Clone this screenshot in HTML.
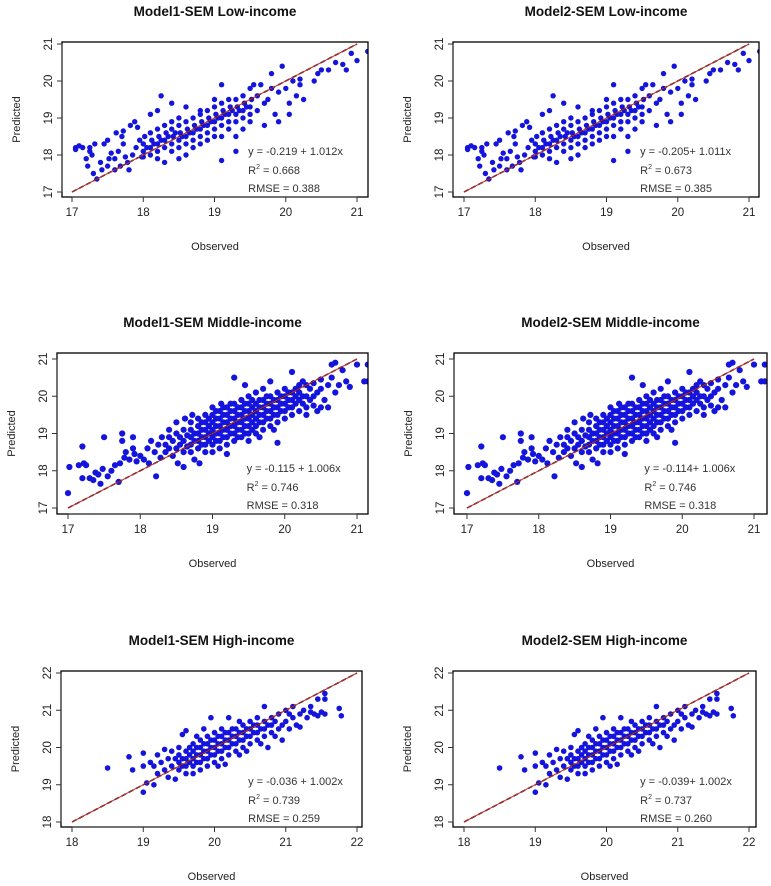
<!DOCTYPE html>
<html><head><meta charset="utf-8">
<style>
html,body{margin:0;padding:0;background:#fff;}
svg{display:block;font-family:"Liberation Sans",Arial,sans-serif;}
</style></head>
<body>
<svg id="chart" width="771" height="886" viewBox="0 0 771 886" xmlns="http://www.w3.org/2000/svg"></svg>
<script>
// ---------- data (observed, predicted) ----------
const lowPoints = [
[17.05,18.2],[17.05,18.15],[17.1,18.25],[17.15,18.2],[17.2,17.9],[17.22,17.7],[17.25,18.1],[17.25,18.2],[17.28,18.0],[17.3,17.5],[17.32,18.3],[17.35,17.35],[17.4,17.8],[17.42,17.6],[17.45,18.3],[17.5,18.4],[17.52,17.9],[17.55,18.05],[17.6,17.6],[17.62,18.6],[17.65,18.1],[17.7,18.5],[17.72,18.65],[17.72,18.3],[17.75,17.95],[17.78,17.8],[17.8,17.6],[17.82,18.8],[17.85,18.0],[17.88,18.9],[17.9,18.2],[17.92,18.75],[17.95,18.4],[17.98,17.95],[17.6,17.9],[17.5,17.7],[17.68,17.7],
[18.0,18.1],[18.0,18.3],[18.02,18.5],[18.0,17.95],[18.05,18.2],
[18.1,18.0],[18.1,18.2],[18.12,18.4],[18.1,18.6],[18.1,19.1],[18.15,18.3],
[18.2,18.1],[18.2,18.3],[18.22,18.5],[18.2,18.7],[18.2,17.9],[18.2,19.2],[18.25,18.4],
[18.3,18.2],[18.3,18.4],[18.32,18.6],[18.3,18.8],[18.3,17.8],[18.25,19.6],[18.35,18.5],
[18.4,18.1],[18.4,18.3],[18.42,18.5],[18.4,18.7],[18.4,18.9],[18.4,19.4],[18.45,18.6],
[18.5,18.2],[18.5,18.4],[18.52,18.6],[18.5,18.8],[18.5,19.0],[18.5,17.9],[18.55,18.5],
[18.6,18.3],[18.6,18.5],[18.62,18.7],[18.6,18.9],[18.6,19.3],[18.6,18.0],[18.65,18.6],
[18.7,18.4],[18.7,18.6],[18.72,18.8],[18.7,19.0],[18.7,18.2],[18.75,18.7],
[18.8,18.5],[18.8,18.7],[18.82,18.9],[18.8,19.1],[18.8,18.3],[18.8,19.2],[18.85,18.8],
[18.9,18.6],[18.9,18.8],[18.92,19.0],[18.9,19.2],[18.9,18.4],[18.95,18.9],
[19.0,18.7],[19.0,18.9],[19.02,19.1],[19.0,19.3],[19.0,18.5],[19.0,19.5],[19.05,19.0],
[19.1,18.8],[19.1,19.0],[19.12,19.2],[19.1,19.4],[19.1,18.5],[19.1,19.9],[19.1,17.85],[19.15,19.1],
[19.2,18.9],[19.2,19.1],[19.22,19.3],[19.2,18.7],[19.2,19.5],[19.25,19.2],
[19.3,18.9],[19.3,19.1],[19.32,19.3],[19.3,19.5],[19.3,18.5],[19.3,18.1],[19.35,19.2],
[19.4,19.0],[19.4,19.2],[19.42,19.4],[19.4,19.6],[19.4,18.7],[19.45,19.3],
[19.5,19.1],[19.5,19.3],[19.52,19.5],[19.5,19.8],[19.5,18.9],
[19.6,19.2],[19.6,19.6],[19.65,19.9],[19.7,19.4],[19.7,18.8],[19.75,19.5],[19.8,19.8],[19.8,20.2],[19.85,19.1],[19.9,19.7],[19.95,20.4],[20.0,19.8],[20.05,19.1],[20.1,20.0],[20.15,19.6],[20.2,19.9],[20.2,20.05],[20.25,19.5],[20.4,20.0],[20.45,20.2],[20.5,20.3],[20.6,20.3],[20.7,20.5],[20.8,20.45],[20.85,20.3],[20.92,20.75],[21.0,20.55],[21.15,20.8],[19.55,19.9],[19.9,18.9],[20.05,19.4]
];
const middlePoints = [
[17.0,17.4],[17.02,18.1],[17.15,18.15],[17.2,18.65],[17.2,17.8],[17.22,18.2],[17.25,18.15],[17.3,17.8],[17.35,17.75],[17.38,17.95],[17.42,17.9],[17.45,17.65],[17.48,18.05],[17.5,18.9],[17.55,17.85],[17.6,18.0],[17.65,18.15],[17.7,17.7],[17.72,18.2],[17.75,19.0],[17.75,18.8],[17.78,18.35],[17.8,18.5],[17.85,18.3],[17.9,18.9],[17.9,18.6],[17.92,18.45],[17.95,18.25],[18.0,18.4],[18.05,18.3],[18.1,18.6],[18.12,18.2],[18.15,18.8],[18.2,18.5],[18.22,17.85],[18.25,18.7],[18.28,18.35],[18.3,18.9],
[18.35,18.5],[18.35,18.7],[18.4,18.6],[18.4,18.9],[18.4,19.1],[18.45,18.4],[18.45,18.8],[18.5,18.6],[18.5,19.0],[18.5,19.3],[18.52,18.2],[18.55,18.7],[18.55,18.9],[18.6,18.5],[18.6,18.8],[18.6,19.1],[18.6,18.1],[18.62,19.4],[18.65,18.65],[18.65,18.95],
[18.7,18.5],[18.7,18.7],[18.7,18.9],[18.7,19.1],[18.7,19.3],[18.72,19.5],[18.75,18.3],[18.75,18.8],[18.75,19.0],[18.8,18.6],[18.8,18.8],[18.8,19.0],[18.8,19.2],[18.8,19.4],[18.82,18.2],[18.85,18.7],[18.85,18.9],[18.85,19.1],[18.85,19.3],
[18.9,18.5],[18.9,18.7],[18.9,18.9],[18.9,19.1],[18.9,19.3],[18.9,19.5],[18.95,18.8],[18.95,19.0],[18.95,19.2],[18.95,19.4],[19.0,18.5],[19.0,18.7],[19.0,18.9],[19.0,19.1],[19.0,19.3],[19.0,19.5],[19.0,19.7],[19.05,18.8],[19.05,19.0],[19.05,19.2],[19.05,19.4],[19.05,19.6],
[19.1,18.6],[19.1,18.8],[19.1,19.0],[19.1,19.2],[19.1,19.4],[19.1,19.6],[19.12,19.8],[19.15,18.9],[19.15,19.1],[19.15,19.3],[19.15,19.5],[19.15,19.7],[19.2,18.7],[19.2,18.9],[19.2,19.1],[19.2,19.3],[19.2,19.5],[19.2,19.7],[19.2,18.45],[19.25,19.0],[19.25,19.2],[19.25,19.4],[19.25,19.6],[19.25,19.8],[19.3,20.5],
[19.3,18.8],[19.3,19.0],[19.3,19.2],[19.3,19.4],[19.3,19.6],[19.3,19.8],[19.35,18.9],[19.35,19.1],[19.35,19.3],[19.35,19.5],[19.35,19.7],[19.4,18.9],[19.4,19.1],[19.4,19.3],[19.4,19.5],[19.4,19.7],[19.4,19.9],[19.45,19.0],[19.45,19.2],[19.45,19.4],[19.45,19.6],[19.45,19.8],[19.45,20.3],
[19.5,18.8],[19.5,19.0],[19.5,19.2],[19.5,19.4],[19.5,19.6],[19.5,19.8],[19.5,20.0],[19.55,19.1],[19.55,19.3],[19.55,19.5],[19.55,19.7],[19.55,19.9],[19.6,19.0],[19.6,19.2],[19.6,19.4],[19.6,19.6],[19.6,19.8],[19.6,20.1],[19.65,19.3],[19.65,19.5],[19.65,19.7],[19.65,19.9],[19.65,18.9],
[19.7,19.1],[19.7,19.3],[19.7,19.5],[19.7,19.7],[19.7,19.9],[19.7,20.2],[19.75,19.4],[19.75,19.6],[19.75,19.8],[19.75,20.0],[19.8,19.2],[19.8,19.4],[19.8,19.6],[19.8,19.8],[19.8,20.0],[19.8,20.4],[19.85,19.5],[19.85,19.7],[19.85,19.9],[19.85,19.1],[19.9,19.3],[19.9,19.5],[19.9,19.7],[19.9,19.9],[19.9,20.1],[19.9,18.75],
[19.95,19.6],[19.95,19.8],[19.95,20.0],[20.0,19.4],[20.0,19.6],[20.0,19.8],[20.0,20.0],[20.0,20.2],[20.05,19.7],[20.05,19.9],[20.05,20.1],[20.1,19.5],[20.1,19.7],[20.1,19.9],[20.1,20.1],[20.1,20.65],[20.15,19.8],[20.15,20.0],[20.15,20.2],[20.2,19.6],[20.2,19.9],[20.2,20.1],[20.2,20.3],[20.25,19.8],[20.25,20.0],[20.25,20.4],[20.3,19.7],[20.3,20.0],[20.3,20.3],[20.3,19.5],[20.35,19.9],[20.35,20.2],[20.4,20.0],[20.4,20.35],[20.45,19.6],[20.45,20.1],[20.5,20.2],[20.5,20.45],[20.55,19.9],[20.6,20.3],[20.6,19.7],[20.65,20.5],[20.7,20.9],[20.7,20.1],[20.75,20.3],[20.8,20.7],[20.85,20.4],[20.9,20.25],[21.0,20.85],[21.1,20.4],[21.15,20.4],[21.15,20.85],[20.65,20.85],[20.5,19.7],[20.4,19.75]
];
const highPoints = [
[18.5,19.45],[18.8,19.75],[18.85,19.4],[19.0,18.8],[19.0,19.5],[19.0,19.85],[19.05,19.05],[19.1,19.6],[19.15,19.0],[19.15,19.5],[19.2,19.8],[19.2,19.3],[19.25,19.6],[19.3,19.4],[19.3,19.95],[19.35,19.2],[19.35,19.7],[19.4,19.9],[19.4,19.5],[19.45,19.15],[19.45,19.7],
[19.5,19.4],[19.5,19.6],[19.5,19.8],[19.5,20.0],[19.55,19.5],[19.55,19.7],[19.55,20.35],[19.6,19.3],[19.6,19.5],[19.6,19.7],[19.6,19.9],[19.6,20.45],[19.65,19.6],[19.65,19.8],[19.65,20.0],[19.7,19.3],[19.7,19.5],[19.7,19.7],[19.7,19.9],[19.7,20.1],[19.75,19.6],[19.75,19.8],[19.75,20.0],[19.75,20.3],
[19.8,19.4],[19.8,19.6],[19.8,19.8],[19.8,20.0],[19.8,20.2],[19.85,19.7],[19.85,19.9],[19.85,20.1],[19.85,20.5],[19.9,19.5],[19.9,19.7],[19.9,19.9],[19.9,20.1],[19.9,20.3],[19.95,19.8],[19.95,20.0],[19.95,20.2],[19.95,20.8],[20.0,19.6],[20.0,19.8],[20.0,20.0],[20.0,20.2],[20.0,20.4],[20.05,19.9],[20.05,20.1],[20.05,20.3],[20.05,19.5],
[20.1,19.7],[20.1,19.9],[20.1,20.1],[20.1,20.3],[20.1,20.5],[20.15,20.0],[20.15,20.2],[20.15,20.4],[20.15,19.55],[20.2,19.8],[20.2,20.0],[20.2,20.2],[20.2,20.4],[20.2,20.8],[20.25,20.1],[20.25,20.3],[20.25,20.5],[20.3,19.9],[20.3,20.1],[20.3,20.3],[20.3,20.5],[20.35,20.2],[20.35,20.4],[20.35,20.7],[20.35,19.8],
[20.4,20.0],[20.4,20.2],[20.4,20.4],[20.4,20.6],[20.45,20.3],[20.45,20.5],[20.45,19.9],[20.5,20.1],[20.5,20.3],[20.5,20.5],[20.5,20.7],[20.55,20.4],[20.55,20.6],[20.6,20.2],[20.6,20.4],[20.6,20.6],[20.6,20.8],[20.65,20.5],[20.65,20.1],[20.7,20.3],[20.7,20.5],[20.7,20.7],[20.7,21.1],[20.75,20.6],[20.75,20.0],
[20.8,20.4],[20.8,20.6],[20.8,20.8],[20.85,20.3],[20.85,20.7],[20.9,20.5],[20.9,20.9],[20.95,20.6],[20.95,20.2],[21.0,20.7],[21.0,21.0],[21.05,20.5],[21.05,20.9],[21.1,20.8],[21.1,21.1],[21.15,20.6],[21.2,20.9],[21.25,21.0],[21.3,20.8],[21.35,21.1],[21.35,20.95],[21.4,20.9],[21.45,21.3],[21.55,21.45],[21.55,21.3],[21.55,20.9],[21.5,20.95],[21.75,21.05],[21.78,20.85],[21.45,20.85],[21.2,20.55]
];
const equations = ["y = -0.219 + 1.012x","y = -0.205+ 1.011x","y = -0.115 + 1.006x","y = -0.114+ 1.006x","y = -0.036 + 1.002x","y = -0.039+ 1.002x"];
const r2Values = ["0.668","0.673","0.746","0.746","0.739","0.737"];
const rmseValues = ["0.388","0.385","0.318","0.318","0.259","0.260"];
const titles = ["Model1-SEM Low-income","Model2-SEM Low-income","Model1-SEM Middle-income","Model2-SEM Middle-income","Model1-SEM High-income","Model2-SEM High-income"];
const lowTicks = [17,18,19,20,21];
const highTicks = [18,19,20,21,22];

// ---------- layout ----------
const panels = [
 {pts:lowPoints, ticks:lowTicks, box:[62,42,368,197], xa:[72,357], ya:[192,44], r:2.7},
 {pts:lowPoints, ticks:lowTicks, box:[453,42,759,197], xa:[464,749], ya:[192,44], r:2.7},
 {pts:middlePoints, ticks:lowTicks, box:[57,353,368,514], xa:[68,357], ya:[508,359], r:3.1},
 {pts:middlePoints, ticks:lowTicks, box:[454,353,767,514], xa:[467,754], ya:[508,359], r:3.1},
 {pts:highPoints, ticks:highTicks, box:[61,671,362,827], xa:[72,357], ya:[822,673], r:2.8},
 {pts:highPoints, ticks:highTicks, box:[453,671,756,827], xa:[464,749], ya:[822,673], r:2.8}
];
const NS="http://www.w3.org/2000/svg";
const svg=document.getElementById('chart');
function mk(tag,attrs,parent){const e=document.createElementNS(NS,tag);for(const k in attrs)e.setAttribute(k,attrs[k]);(parent||svg).appendChild(e);return e;}

panels.forEach((p,i)=>{
  const t0=p.ticks[0], t1=p.ticks[p.ticks.length-1];
  const xs=v=>p.xa[0]+(v-t0)/(t1-t0)*(p.xa[1]-p.xa[0]);
  const ys=v=>p.ya[0]+(v-t0)/(t1-t0)*(p.ya[1]-p.ya[0]);
  const [bx0,by0,bx1,by1]=p.box;
  const g=mk('g',{});
  
  
  const cid='clip'+i;
  const cp=mk('clipPath',{id:cid},g); mk('rect',{x:bx0,y:by0,width:bx1-bx0,height:by1-by0},cp);
  const title=mk('text',{x:(bx0+bx1)/2,y:by0-26,'text-anchor':'middle','font-size':'13.5','font-weight':'bold',fill:'#111'},g);
  title.textContent=titles[i];
  
  
  const pg=mk('g',{'clip-path':'url(#'+cid+')'},g);
  
  
  p.pts.forEach(d=>{
    const c=mk('circle',{cx:xs(d[0]).toFixed(1),cy:ys(d[1]).toFixed(1),r:p.r,fill:'#1414dc'},pg);
    
    
  });
  const l1=mk('line',{x1:xs(t0),y1:ys(t0),x2:xs(t1),y2:ys(t1),stroke:'#000','stroke-width':1.5,'stroke-dasharray':'5,3'},g);
  
  
  const l2=mk('line',{x1:xs(t0),y1:ys(t0),x2:xs(t1),y2:ys(t1),stroke:'#c03030','stroke-width':1},g);
  
  
  const box=mk('rect',{x:bx0,y:by0,width:bx1-bx0,height:by1-by0,fill:'none',stroke:'#000','stroke-width':1.3},g);
  
  
  mk('line',{x1:xs(t0),y1:by1,x2:xs(t1),y2:by1,stroke:'#333'},g);
  mk('line',{x1:bx0,y1:ys(t0),x2:bx0,y2:ys(t1),stroke:'#333'},g);
  p.ticks.forEach(t=>{
    mk('line',{x1:xs(t),y1:by1,x2:xs(t),y2:by1+5,stroke:'#333'},g);
    const tx=mk('text',{x:xs(t),y:by1+19,'text-anchor':'middle','font-size':'11.5',fill:'#222'},g);
    tx.textContent=t;
    
    
    mk('line',{x1:bx0,y1:ys(t),x2:bx0-5,y2:ys(t),stroke:'#333'},g);
    const ty=mk('text',{x:bx0-10,y:ys(t),'text-anchor':'middle','font-size':'11.5',fill:'#222',transform:'rotate(-90 '+(bx0-10)+' '+ys(t)+')'},g);
    ty.textContent=t;
    
    
  });
  const xl=mk('text',{x:(bx0+bx1)/2,y:by1+53,'text-anchor':'middle','font-size':'11',fill:'#222'},g);
  xl.textContent='Observed';
  
  
  const yx=bx0-42, yy=(by0+by1)/2;
  const yl=mk('text',{x:yx,y:yy,'text-anchor':'middle','font-size':'11',fill:'#222',transform:'rotate(-90 '+yx+' '+yy+')'},g);
  yl.textContent='Predicted';
  
  
  const ax=xs(t0+2.5)-2;
  const e1=mk('text',{x:ax,y:by1-42,'font-size':'11',fill:'#333'},g);
  e1.textContent=equations[i];
  
  
  const e2=mk('text',{x:ax,y:by1-23,'font-size':'11',fill:'#333'},g);
  e2.innerHTML='R<tspan dy="-5" font-size="7">2</tspan><tspan dy="5"> = '+r2Values[i]+'</tspan>';
  
  
  const e3=mk('text',{x:ax,y:by1-5,'font-size':'11',fill:'#333'},g);
  e3.textContent='RMSE = '+rmseValues[i];
  
  
});
</script>
</body></html>
